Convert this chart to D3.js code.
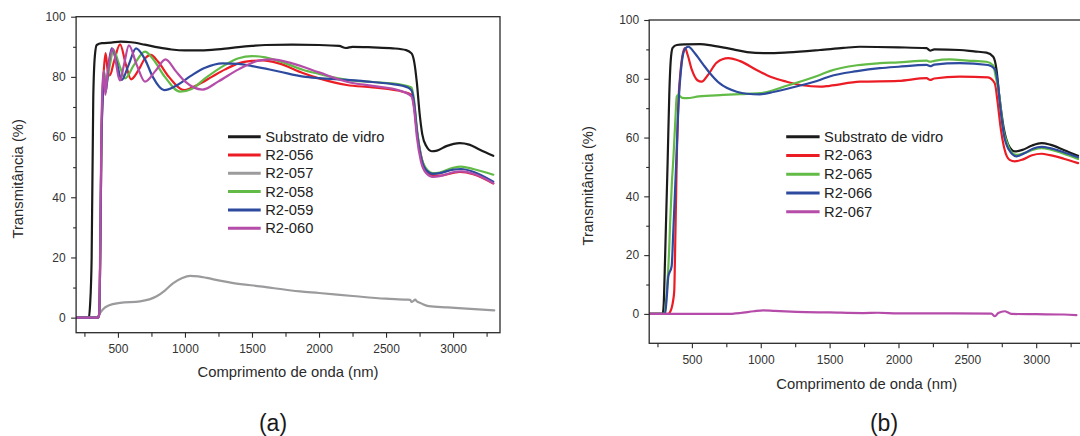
<!DOCTYPE html>
<html>
<head>
<meta charset="utf-8">
<script src="https://cdn.jsdelivr.net/npm/d3@7"></script>
<style>
  html, body { margin: 0; padding: 0; background: #fff; }
  svg { display: block; font-family: "Liberation Sans", Arial, sans-serif; }
</style>
</head>
<body>
<svg id="chart" width="1080" height="436"></svg>
<script>
// ---- Spectra: [wavelength (nm), transmittance (%)] ----

// Panel (a)
const a_substrato = [[190,0],[283,0],[292,4],[304,20],[316,73],[328,87],[342,90.6],[380,91.2],[450,91.4],[520,91.7],[600,91.5],[700,90.7],[800,89.8],[900,89.1],[1000,88.8],[1100,88.8],[1200,89],[1300,89.4],[1400,89.9],[1500,90.3],[1600,90.6],[1800,90.7],[2000,90.6],[2150,90.3],[2200,89.6],[2250,90],[2400,89.8],[2550,89.5],[2650,88.9],[2690,87.8],[2710,85],[2730,78],[2750,68],[2770,61],[2800,57],[2840,55.3],[2880,55.5],[2950,57],[3050,58],[3120,57.5],[3200,55.8],[3300,53.8]];
const a_r2056 = [[190,0],[352,0],[360,1],[368,20],[376,55],[386,75],[396,83],[408,87.9],[424,82],[440,80.5],[470,85],[516,90.8],[560,84],[598,79.2],[650,82],[700,86],[745,87.3],[800,85],[880,80],[995,75.6],[1100,77.5],[1200,80],[1300,82.5],[1400,84.5],[1500,85.3],[1580,85.5],[1700,84.5],[1884,81.2],[2000,79.5],[2207,77.3],[2400,76.5],[2630,75],[2690,74],[2710,70],[2730,62],[2760,54],[2800,49],[2850,47.3],[2900,47.2],[3050,48.4],[3150,47.7],[3300,44.6]];
const a_r2057 = [[190,0],[335,0],[350,0.4],[366,1.5],[391,2.9],[430,4],[516,4.9],[665,5.4],[789,7.1],[850,9],[913,11.5],[980,13.2],[1038,13.9],[1100,13.7],[1163,13.2],[1260,12.3],[1361,11.5],[1560,10.4],[1859,8.7],[2000,8.2],[2250,7.2],[2498,6.3],[2652,6],[2680,5.9],[2691,5.2],[2705,5.6],[2717,6],[2730,5.4],[2760,4.8],[2819,3.8],[2961,3.4],[3100,3],[3307,2.4]];
const a_r2058 = [[190,0],[352,0],[360,1],[368,20],[377,60],[386,75],[396,82],[412,77.5],[440,84],[466,89],[510,84],[553,79.5],[620,84],[702,88.4],[760,86],[850,80],[963,75.1],[1050,76],[1150,79.5],[1300,84],[1400,86.2],[1500,86.9],[1600,86.5],[1750,84.5],[1884,82.3],[2000,81],[2207,79],[2400,78.3],[2600,77.5],[2690,76.5],[2710,72],[2730,63],[2760,54],[2800,49.5],[2850,48],[2900,48.2],[3000,49.8],[3060,50.2],[3150,49.4],[3300,47.5]];
const a_r2059 = [[190,0],[352,0],[360,1],[368,20],[377,58],[386,72],[396,80],[410,75],[430,84],[454,89.5],[490,85],[528,79],[580,84],[635,89.5],[700,86],[760,80],[845,75.6],[950,77.5],[1050,80.5],[1150,83],[1280,84.5],[1400,84.3],[1500,83.6],[1700,81.8],[1884,80.1],[2000,79.6],[2207,79],[2400,78.3],[2550,77.6],[2655,76.6],[2690,75.5],[2710,71],[2730,62],[2760,53.5],[2800,49],[2850,47.8],[2900,48],[3000,49.2],[3060,49.4],[3150,48.5],[3300,45.2]];
const a_r2060 = [[190,0],[352,0],[360,1],[368,25],[376,60],[386,78],[396,82],[406,74],[420,80],[460,89.3],[516,78.8],[545,84],[582,90.5],[640,84],[702,78.4],[780,82],[855,85.8],[930,82],[1000,78.5],[1130,75.8],[1250,78.5],[1400,82.5],[1550,85.4],[1650,85.8],[1800,84.5],[2000,81.5],[2207,78.4],[2400,77],[2600,75.5],[2690,73.5],[2710,69],[2730,60],[2760,52],[2800,48],[2850,46.8],[2900,47],[3000,48.3],[3060,48.6],[3150,47.8],[3300,44.7]];

// Panel (b)
const b_substrato = [[190,0],[288,0],[295,3],[305,18.5],[324,52],[336,75],[346,86],[360,90.5],[390,91.5],[460,91.7],[559,91.8],[650,91.3],[800,90],[900,89.1],[1043,88.7],[1200,89],[1429,89.8],[1600,90.5],[1720,90.9],[2000,90.7],[2204,90.4],[2230,89.6],[2260,90],[2445,89.8],[2550,89.3],[2639,88.9],[2688,87.5],[2712,83],[2730,75],[2748,68.3],[2765,63],[2784,59.2],[2810,56.5],[2845,55.3],[2900,55.8],[2970,57.3],[3038,58.1],[3100,57.6],[3200,55.8],[3304,53.8]];
const b_r2063 = [[190,0],[329,0],[345,1],[353,2],[365,4.9],[372,8],[377,18.5],[390,52.4],[405,75],[414,80.7],[430,87.5],[450,90.4],[470,88],[500,83],[540,79.5],[571,79],[620,81.5],[680,85.5],[764,87],[850,86],[970,83],[1080,80.5],[1188,79],[1300,77.8],[1429,77.3],[1500,77.6],[1720,79],[2000,79.3],[2204,80.2],[2230,79.6],[2260,80.1],[2445,80.7],[2650,80.5],[2699,78.5],[2720,72],[2740,64],[2770,56],[2807,52.4],[2845,51.9],[2900,52.5],[2970,54],[3038,54.5],[3100,54],[3200,52.8],[3304,51.3]];
const b_r2065 = [[190,0],[300,0],[317,7],[335,22],[341,29.8],[355,45],[365,52.4],[380,66],[390,73.9],[401,74.5],[430,73.5],[462,73.4],[550,74],[728,74.5],[850,74.8],[994,75.1],[1200,77.8],[1429,81.3],[1500,82.6],[1700,84.6],[1864,85.3],[2000,85.6],[2204,86.2],[2230,85.8],[2260,86.1],[2373,86.6],[2500,86.2],[2639,85.8],[2688,84.5],[2705,81],[2733,73.9],[2760,63],[2790,58],[2820,55],[2857,54.1],[2920,54.8],[2980,55.9],[3038,56.4],[3100,56],[3200,54.5],[3304,52.7]];
const b_r2066 = [[190,0],[305,0],[318,6],[329,12.8],[353,16.2],[365,28],[377,41.1],[390,56],[401,69.4],[426,85.3],[450,90.2],[474,90.9],[520,88.8],[580,85],[631,81.9],[700,78.5],[825,75.6],[900,74.9],[994,74.7],[1100,75.6],[1250,77.3],[1429,79.6],[1500,80.8],[1700,82.6],[1864,83.6],[2000,84.1],[2204,84.7],[2230,84.3],[2260,84.8],[2445,85.3],[2650,84.7],[2700,83.3],[2720,79],[2740,70],[2765,61],[2800,56],[2857,53.6],[2920,54.8],[2980,56.3],[3038,56.8],[3100,56.4],[3200,55],[3304,53.3]];
const b_r2067 = [[190,0],[500,0],[752,0],[850,0.3],[950,0.9],[1018,1.2],[1100,1.0],[1260,0.7],[1500,0.5],[1744,0.3],[1850,0.4],[2000,0.2],[2400,0.2],[2675,0.1],[2700,-0.8],[2724,0.3],[2772,0.9],[2800,0.4],[2820,0],[3000,-0.1],[3200,-0.2],[3292,-0.4]];

// Legend labels
const legendA = ["Substrato de vidro", "R2-056", "R2-057", "R2-058", "R2-059", "R2-060"];
const legendB = ["Substrato de vidro", "R2-063", "R2-065", "R2-066", "R2-067"];

// Axis ticks
const xMajor = [500, 1000, 1500, 2000, 2500, 3000];
const xMinor = [250, 750, 1250, 1750, 2250, 2750, 3250];
const yMajor = [0, 20, 40, 60, 80, 100];
const yMinor = [10, 30, 50, 70, 90];

const colors = {
  black: "#1b1b1b", red: "#ec1c24", gray: "#9b9b9d",
  green: "#62bb46", blue: "#2d4a9f", magenta: "#b54ca9"
};

const svg = d3.select("#chart");
svg.append("rect").attr("width", 1080).attr("height", 436).attr("fill", "#fff");

function drawPanel(cfg) {
  const x = d3.scaleLinear().domain(cfg.xDomain).range(cfg.xRange);
  const y = d3.scaleLinear().domain(cfg.yDomain).range(cfg.yRange);
  const g = svg.append("g");
  const [x0, x1] = cfg.xRange, [y0, y1] = cfg.yRange;

  const clipId = "clip-" + cfg.id;
  svg.append("clipPath").attr("id", clipId)
    .append("rect").attr("x", x0).attr("y", y1).attr("width", x1 - x0).attr("height", y0 - y1);

  // curves
  const line = d3.line().x(d => x(d[0])).y(d => y(d[1])).curve(d3.curveMonotoneX);
  const curves = g.append("g").attr("clip-path", `url(#${clipId})`);
  cfg.series.forEach(s => {
    curves.append("path").datum(s.data)
      .attr("d", line).attr("fill", "none")
      .attr("stroke", s.color).attr("stroke-width", 2.2)
      .attr("stroke-linejoin", "round").attr("stroke-linecap", "round");
  });

  // frame
  g.append("rect").attr("x", x0).attr("y", y1).attr("width", x1 - x0).attr("height", y0 - y1)
    .attr("fill", "none").attr("stroke", "#2a2a2a").attr("stroke-width", 1.3);

  const styleAxis = sel => {
    sel.select(".domain").remove();
    sel.selectAll(".tick line").attr("stroke", "#2a2a2a").attr("stroke-width", 1.1);
    sel.selectAll(".tick text").attr("fill", "#333").style("font-size", "12px")
      .style("font-family", '"Liberation Sans", Arial, sans-serif');
  };

  // bottom axis
  g.append("g").attr("transform", `translate(0,${y0})`)
    .call(d3.axisBottom(x).tickValues(xMinor).tickSize(4).tickFormat(""))
    .call(styleAxis);
  g.append("g").attr("transform", `translate(0,${y0})`)
    .call(d3.axisBottom(x).tickValues(xMajor).tickSize(5).tickPadding(7).tickFormat(d3.format("d")))
    .call(styleAxis);

  // left axis
  g.append("g").attr("transform", `translate(${x0},0)`)
    .call(d3.axisLeft(y).tickValues(yMinor).tickSize(3).tickFormat(""))
    .call(styleAxis);
  g.append("g").attr("transform", `translate(${x0},0)`)
    .call(d3.axisLeft(y).tickValues(yMajor).tickSize(5).tickPadding(cfg.yPad).tickFormat(d3.format("d")))
    .call(styleAxis);

  // axis titles
  g.append("text").attr("x", cfg.xTitle[0]).attr("y", cfg.xTitle[1])
    .attr("text-anchor", "middle").attr("dominant-baseline", "central")
    .attr("fill", "#2a2a2a").style("font-size", "14.8px")
    .text("Comprimento de onda (nm)");
  g.append("text")
    .attr("transform", `translate(${cfg.yTitle[0]},${cfg.yTitle[1]}) rotate(-90)`)
    .attr("text-anchor", "middle").attr("dominant-baseline", "central")
    .attr("fill", "#2a2a2a").style("font-size", "14.8px")
    .text("Transmitância (%)");

  // legend
  const lg = g.append("g");
  cfg.series.forEach((s, i) => {
    const ly = cfg.legend.y + i * cfg.legend.step;
    lg.append("line").attr("x1", cfg.legend.x1).attr("x2", cfg.legend.x2)
      .attr("y1", ly).attr("y2", ly)
      .attr("stroke", s.color).attr("stroke-width", 3);
    lg.append("text").attr("x", cfg.legend.tx).attr("y", ly)
      .attr("dominant-baseline", "central")
      .attr("fill", "#222").style("font-size", "14.7px")
      .text(s.label);
  });

  // panel caption
  g.append("text").attr("x", cfg.caption[0]).attr("y", cfg.caption[1])
    .attr("text-anchor", "middle").attr("dominant-baseline", "central")
    .attr("fill", "#1a1a1a").style("font-size", "23px")
    .text(cfg.captionText);
}

drawPanel({
  id: "a",
  xDomain: [188, 3350], xRange: [76.1, 500],
  yDomain: [-5, 100], yRange: [332.7, 16.7],
  yPad: 5.5,
  xTitle: [288, 371.7], yTitle: [17.9, 178.8],
  legend: { x1: 228, x2: 260.7, tx: 265.2, y: 136.7, step: 18.3 },
  caption: [273, 423], captionText: "(a)",
  series: [
    { label: legendA[0], color: colors.black, data: a_substrato },
    { label: legendA[1], color: colors.red, data: a_r2056 },
    { label: legendA[2], color: colors.gray, data: a_r2057 },
    { label: legendA[3], color: colors.green, data: a_r2058 },
    { label: legendA[4], color: colors.blue, data: a_r2059 },
    { label: legendA[5], color: colors.magenta, data: a_r2060 }
  ]
});

drawPanel({
  id: "b",
  xDomain: [190, 3350], xRange: [649.2, 1084.4],
  yDomain: [-10, 100], yRange: [343.3, 20],
  yPad: 5,
  xTitle: [866.8, 384.3], yTitle: [588.2, 185.8],
  legend: { x1: 786.2, x2: 819.6, tx: 824.1, y: 136.7, step: 18.75 },
  caption: [884, 423], captionText: "(b)",
  series: [
    { label: legendB[0], color: colors.black, data: b_substrato },
    { label: legendB[1], color: colors.red, data: b_r2063 },
    { label: legendB[2], color: colors.green, data: b_r2065 },
    { label: legendB[3], color: colors.blue, data: b_r2066 },
    { label: legendB[4], color: colors.magenta, data: b_r2067 }
  ]
});
</script>
</body>
</html>
